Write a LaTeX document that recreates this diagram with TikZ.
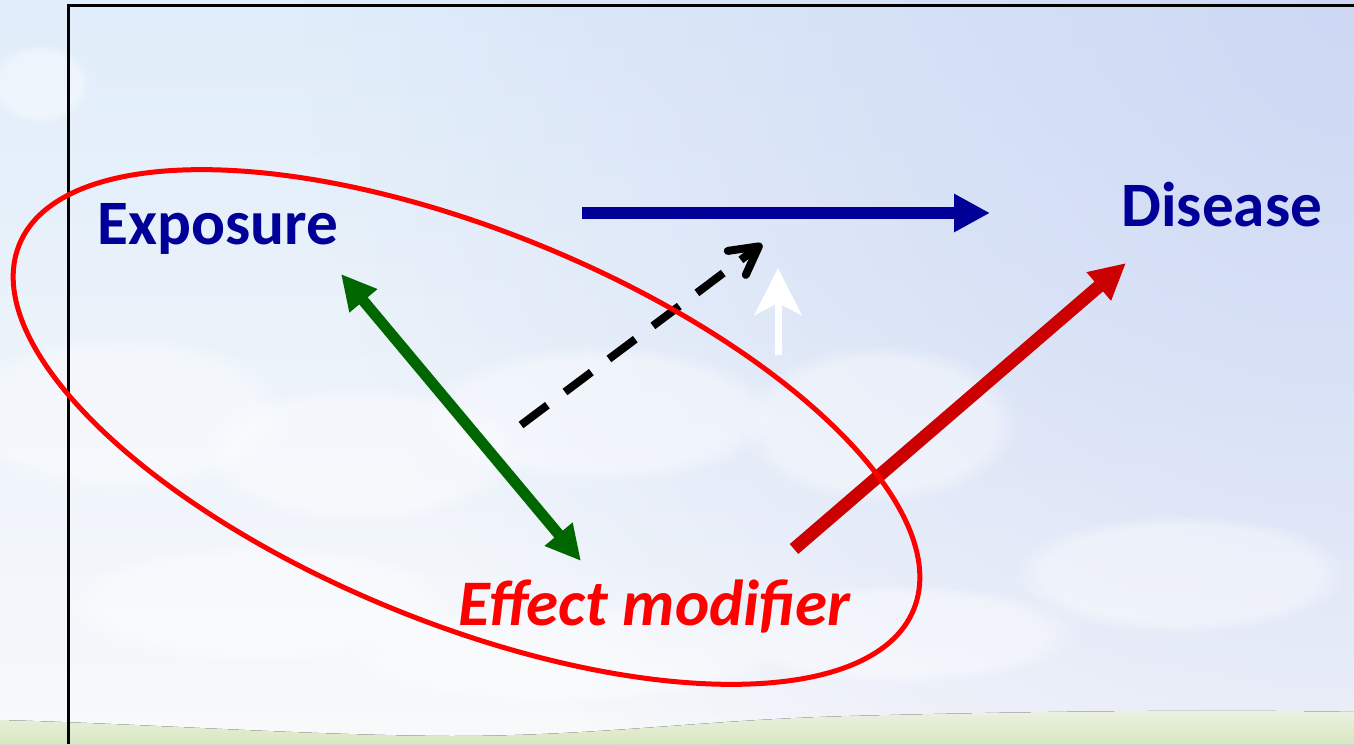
\documentclass[tikz,border=0pt]{standalone}
\usepackage{fontspec}
\setmainfont{Carlito}
\usepackage{xcolor}
\usepackage{tikz}
\usetikzlibrary{arrows.meta,positioning,fadings}
\definecolor{navy}{HTML}{000099}
\definecolor{leafgreen}{HTML}{006600}
\definecolor{darkred}{HTML}{CC0000}
\definecolor{brightred}{HTML}{FF0000}
\definecolor{skytop}{RGB}{224,237,250}
\definecolor{skymid}{RGB}{240,245,251}
\definecolor{skylow}{RGB}{248,249,251}
\definecolor{skyviolet}{RGB}{206,216,244}
\definecolor{grasstop}{RGB}{236,242,228}
\definecolor{grassbot}{RGB}{216,231,192}
\tikzfading[name=skyglow, inner color=transparent!0, outer color=transparent!100]

\begin{document}
\begin{tikzpicture}[x=0.02cm, y=0.02cm,
    label/.style={font=\bfseries\fontsize{36}{42}\selectfont, anchor=base west, inner sep=0pt},
    cloud/.style={white, opacity=0.4, path fading=circle with fuzzy edge 20 percent},
    bigarrow/.style={line width=0.24cm}
]
    % Sky
    \useasboundingbox (0,0) rectangle (1354,744);
    \fill[top color=skytop, middle color=skymid, bottom color=skylow] (0,0) rectangle (1354,744);
    \begin{scope}
        \clip (0,0) rectangle (1354,744);
        \fill[skyviolet, path fading=skyglow] (1354,744) circle (1050);
        \foreach \cx/\cy/\rx/\ry in {40/660/50/40, 120/330/170/80, 360/290/160/70,
            600/330/180/70, 880/320/140/80, 1180/170/170/60, 260/140/200/60, 560/90/220/50,
            900/110/180/50}
            \fill[cloud] (\cx,\cy) ellipse ({\rx} and {\ry});
    \end{scope}

    % Grass
    \fill[top color=grasstop, bottom color=grassbot] (0,0) -- (0,24)
        .. controls (150,20) and (300,9) .. (450,8)
        .. controls (600,8) and (700,24) .. (850,28)
        .. controls (1000,32) and (1200,35) .. (1354,32) -- (1354,0) -- cycle;

    % Frame
    \draw[line width=0.06cm] (68,0) -- (68,738) -- (1354,738);

    % Labels
    \node[label, text=navy] (expo) at (97,499) {Exposure};
    \node[label, text=navy] (dis) at (1121,517) {Disease};
    \node[label, text=brightred, font=\bfseries\itshape\fontsize{37}{44}\selectfont] (mod) at (458,119) {Effect modifier};

    % Arrow ends
    \coordinate (blueS) at (582,531);
    \coordinate (blueE) at (990,531);
    \coordinate (greenS) at (341,470);
    \coordinate (greenE) at (581,183);
    \coordinate (redS) at (794,195);
    \coordinate (redE) at (1126,481);
    \coordinate (dashS) at (521,319);
    \coordinate (dashE) at (762,500);
    \coordinate (whiteS) at (778,389);
    \coordinate (whiteE) at (778,476);

    \draw[bigarrow, navy, -{Triangle[length=0.72cm, width=0.72cm]}] (blueS) -- (blueE);
    \draw[bigarrow, leafgreen, line width=0.22cm, {Triangle[length=0.7cm, width=0.68cm]}-{Triangle[length=0.7cm, width=0.68cm]}] (greenS) -- (greenE);
    \draw[bigarrow, darkred, line width=0.26cm, -{Triangle[length=0.72cm, width=0.7cm]}] (redS) -- (redE);
    \draw[black, line width=0.16cm, dash pattern=on 0.66cm off 0.44cm, -{Straight Barb[length=0.55cm, width=0.6cm, round]}] (dashS) -- (dashE);
    \draw[white, line width=0.14cm, -{Stealth[length=0.94cm, width=0.94cm, inset=0.24cm]}] (whiteS) -- (whiteE);

    % Ellipse round exposure and modifier
    \draw[brightred, line width=0.1cm, rotate around={-22.2:(466.5,317)}] (466.5,317) ellipse [x radius=483, y radius=196];
\end{tikzpicture}
\end{document}
